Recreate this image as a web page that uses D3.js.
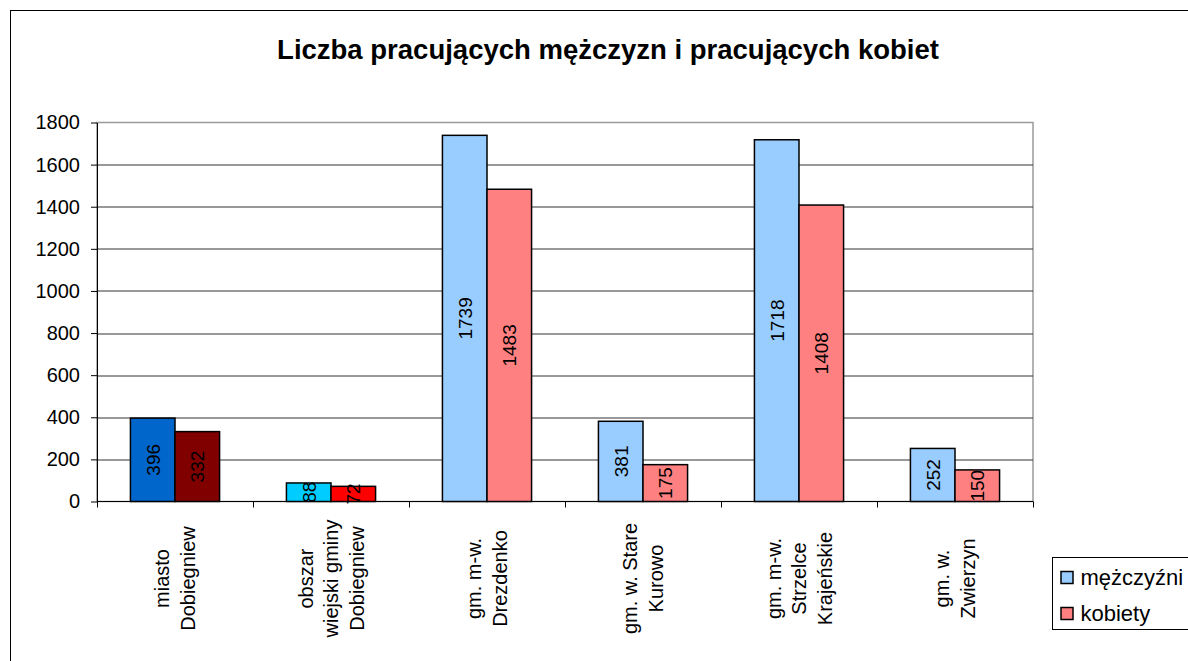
<!DOCTYPE html>
<html>
<head>
<meta charset="utf-8">
<script src="https://cdn.jsdelivr.net/npm/d3@7"></script>
<style>
  body { margin: 0; background: #fff; }
  svg { font-family: "Liberation Sans", Arial, sans-serif; }
</style>
</head>
<body>
<svg id="grafico" width="1188" height="661"></svg>
<script>
// dane
const categories = [
  ["miasto", "Dobiegniew"],
  ["obszar", "wiejski gminy", "Dobiegniew"],
  ["gm. m-w.", "Drezdenko"],
  ["gm. w. Stare", "Kurowo"],
  ["gm. m-w.", "Strzelce", "Krajeńskie"],
  ["gm. w.", "Zwierzyn"]
];
const seriesNames = ["mężczyźni", "kobiety"];
const men   = [396, 88, 1739, 381, 1718, 252];
const women = [332, 72, 1483, 175, 1408, 150];
const yTicks = [0, 200, 400, 600, 800, 1000, 1200, 1400, 1600, 1800];

// kolory (pierwsze dwie kategorie mają własne kolory punktów)
const menColors   = ["#0066cc", "#00ccff", "#99ccff", "#99ccff", "#99ccff", "#99ccff"];
const womenColors = ["#800000", "#ff0000", "#ff8080", "#ff8080", "#ff8080", "#ff8080"];
const legendColors = ["#99ccff", "#ff8080"];

const svg = d3.select("#grafico");
const margin = {top: 122.5, left: 97};
const width = 1033 - margin.left;
const height = 501.5 - margin.top;

// ramka całego wykresu
svg.append("rect")
  .attr("x", 10.5).attr("y", 10.5)
  .attr("width", 1300).attr("height", 800)
  .attr("fill", "none").attr("stroke", "#000");

// tytuł
svg.append("text")
  .attr("x", 608).attr("y", 59)
  .attr("text-anchor", "middle")
  .style("font-size", "27.5px").style("font-weight", "bold")
  .text("Liczba pracujących mężczyzn i pracujących kobiet");

const g = svg.append("g").attr("transform", `translate(${margin.left},${margin.top})`);

const y = d3.scaleLinear().domain([0, 1800]).range([height, 0]);
const x0 = d3.scaleBand().domain(d3.range(categories.length)).range([0, width]);
const x1 = d3.scaleBand().domain([0, 1]).range([0, x0.bandwidth()])
  .paddingOuter(0.75).paddingInner(0);

// ramka obszaru wykresu
g.append("rect")
  .attr("x", 0).attr("y", 0).attr("width", width).attr("height", height)
  .attr("fill", "none").attr("stroke", "#9a9a9a").attr("stroke-width", 1.5);

// linie siatki
g.selectAll(".grid").data(yTicks.filter(d => d > 0 && d < 1800)).enter()
  .append("line")
  .attr("x1", 0).attr("x2", width)
  .attr("y1", d => Math.round(y(d)) + 0.5).attr("y2", d => Math.round(y(d)) + 0.5)
  .attr("stroke", "#333");

// oś Y
const yAxis = d3.axisLeft(y).tickValues(yTicks).tickFormat(d3.format("d"))
  .tickSize(6).tickSizeOuter(0).tickPadding(11);
const gy = g.append("g").call(yAxis);
gy.attr("font-family", null).attr("font-size", null);
gy.selectAll("text").style("font-size", "20px").attr("fill", "#000");
gy.selectAll("line, path").attr("stroke", "#000");

// oś X
const gx = g.append("g").attr("transform", `translate(0,${height})`);
gx.append("line").attr("x1", 0).attr("x2", width).attr("y1", 0).attr("y2", 0).attr("stroke", "#000");
gx.selectAll(".tick").data(d3.range(categories.length + 1)).enter()
  .append("line")
  .attr("x1", d => Math.round(d * x0.step()) + 0.5).attr("x2", d => Math.round(d * x0.step()) + 0.5)
  .attr("y1", 0).attr("y2", 6).attr("stroke", "#000");

// etykiety kategorii (obrócone)
const lineH = 25.5;
categories.forEach((lines, i) => {
  const cx = x0(i) + x0.bandwidth() / 2;
  const t = gx.append("text")
    .attr("transform", `translate(${cx},77) rotate(-90)`)
    .attr("text-anchor", "middle")
    .style("font-size", "20px");
  lines.forEach((l, j) => {
    t.append("tspan")
      .attr("x", 0)
      .attr("y", (j - (lines.length - 1) / 2) * lineH + 7)
      .text(l);
  });
});

// słupki
const rows = categories.map((c, i) => ({i, values: [
  {s: 0, v: men[i], c: menColors[i]},
  {s: 1, v: women[i], c: womenColors[i]}
]}));

const groups = g.selectAll(".grp").data(rows).enter().append("g")
  .attr("transform", d => `translate(${x0(d.i)},0)`);

groups.selectAll("rect").data(d => d.values).enter().append("rect")
  .attr("x", d => x1(d.s))
  .attr("y", d => y(d.v))
  .attr("width", x1.bandwidth())
  .attr("height", d => height - y(d.v))
  .attr("fill", d => d.c)
  .attr("stroke", "#000").attr("stroke-width", 1.5);

groups.selectAll(".lbl").data(d => d.values).enter().append("text")
  .attr("transform", d => `translate(${x1(d.s) + x1.bandwidth() / 2 + 7},${(y(d.v) + height) / 2}) rotate(-90)`)
  .attr("text-anchor", "middle")
  .style("font-size", "19px")
  .text(d => d.v);

// legenda
const leg = svg.append("g").attr("transform", "translate(1052.5,557.5)");
leg.append("rect").attr("width", 200).attr("height", 72)
  .attr("fill", "#fff").attr("stroke", "#000");
seriesNames.forEach((n, i) => {
  leg.append("rect")
    .attr("x", 8.5).attr("y", 14 + i * 36)
    .attr("width", 12).attr("height", 12)
    .attr("fill", legendColors[i]).attr("stroke", "#000").attr("stroke-width", 1.5);
  leg.append("text")
    .attr("x", 28).attr("y", 27 + i * 36)
    .style("font-size", "22px")
    .text(n);
});
</script>
</body>
</html>
